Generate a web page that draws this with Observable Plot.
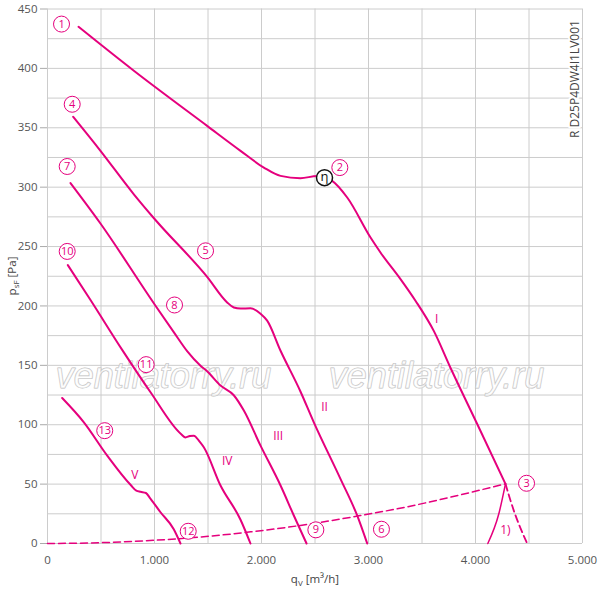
<!DOCTYPE html>
<html>
<head>
<meta charset="utf-8">
<script src="https://cdn.jsdelivr.net/npm/d3@7"></script>
<script src="https://cdn.jsdelivr.net/npm/@observablehq/plot@0.6"></script>
<style>
  html, body { margin: 0; padding: 0; background: #fff; }
  #chart svg { display: block; }
</style>
</head>
<body>
<div id="chart"></div>
<script>
// ---- data ----
const xTicks = [0, 1000, 2000, 3000, 4000, 5000];
const yTicks = [0, 50, 100, 150, 200, 250, 300, 350, 400, 450];
const xGrid = [0, 500, 1000, 1500, 2000, 2500, 3000, 3500, 4000, 4500, 5000];
const yGrid = [0, 25, 50, 75, 100, 125, 150, 175, 200, 225, 250, 275, 300, 325, 350, 375, 400, 425, 450];

const curveI = [[290,435],[807,398],[1492,351.6],[1804,330.6],[2022,316.5],[2178,309.5],[2364,307.6],[2520,309.3],[2589,308],[2660,305.3],[2801,291.3],[3019,257.6],[3112,245],[3299,222.6],[3439,204.4],[3610,179],[3766,148],[4016,100.6],[4280,50.2]];
const curveIdash = [[4280,50.2],[4358,27.7],[4483,0]];
const curveLimit = [[4115,0],[4218,25],[4280,50.2]];
const curveII = [[240,359.2],[495,330.6],[807,294],[1003,273],[1492,224.5],[1679,203],[1741,198.7],[1804,197.8],[1897,198],[1991,193.5],[2053,187.6],[2178,162.3],[2364,128],[2489,102],[2738,54.4],[2894,23.6],[2988,0]];
const curveIII = [[215,303.4],[495,269.4],[1003,201],[1180,178],[1305,162],[1430,149.7],[1492,145],[1617,133],[1741,124.8],[1835,111.9],[1991,82.4],[2178,48.8],[2302,23.6],[2421,0]];
const curveIV = [[190,234.4],[402,205],[698,163],[963,127.3],[1250,92],[1290,89.3],[1330,90.5],[1367,90.8],[1420,86],[1461,81],[1617,48.8],[1804,20],[1897,0]];
const curveV = [[137,122.5],[340,102],[558,74],[780,49],[830,44.5],[870,43.5],[920,42.5],[960,38],[1056,26.3],[1180,12],[1243,0]];
const systemCurve = [[0,0],[500,0.7],[1000,2.7],[1430,5.5],[1900,9.8],[2364,15.2],[2910,23.3],[3400,31.6],[3766,39],[4280,50.2]];

const pointLabels = ["1","2","3","4","5","6","7","8","9","10","11","12","13"];
const pointX = [131, 2732, 4477, 231, 1477, 3121, 184, 1187, 2508, 184, 922, 1315, 535];
const pointY = [437.3, 316.5, 50.7, 369.8, 246.4, 12, 317.4, 200.8, 11.5, 245.9, 150.6, 10.3, 95];

const romanLabels = ["I", "II", "III", "IV", "V", "1)"];
const romanX = [3636, 2589, 2156, 1679, 816, 4280];
const romanY = [189, 114.7, 90.3, 69.2, 57.8, 11.5];

const etaPoint = [[2589, 308]];
const watermarkX = [1084, 3636];
const watermarkY = [140.5, 140.5];
const modelName = "R D25P4DW4I1LV001";

// ---- drawing ----
const MAG = "#e5007d";
const toObj = arr => arr.map(([x, y]) => ({x, y}));
const fmt = d => d3.format(",")(d).replace(/,/g, ".");

const points = pointLabels.map((t, i) => ({t, x: pointX[i], y: pointY[i]}));
const romans = romanLabels.map((t, i) => ({t, x: romanX[i], y: romanY[i]}));
const marks = watermarkX.map((x, i) => ({x, y: watermarkY[i]}));

const lineOpts = {x: "x", y: "y", stroke: MAG, strokeWidth: 2, curve: "monotone-x"};

const svg = Plot.plot({
  width: 600,
  height: 591,
  marginLeft: 47,
  marginRight: 18,
  marginTop: 8.5,
  marginBottom: 48,
  style: {fontFamily: "'Open Sans', sans-serif", background: "#fff"},
  x: {domain: [0, 5000]},
  y: {domain: [0, 450]},
  marks: [
    Plot.gridX(xGrid, {stroke: "#cccccc", strokeOpacity: 1, strokeWidth: 1}),
    Plot.gridY(yGrid, {stroke: "#cccccc", strokeOpacity: 1, strokeWidth: 1}),
    Plot.axisY(yTicks, {tickSize: 7, tickPadding: 3, fontSize: 11.5, fill: "#555", stroke: "#aaa", label: null}),
    Plot.axisX(xTicks, {tickSize: 0, tickPadding: 12, fontSize: 11.5, fill: "#555", tickFormat: fmt, label: null}),
    Plot.text(marks, {x: "x", y: "y", text: () => "ventilatorry.ru", fontSize: 36, fontStyle: "italic",
      fontFamily: "'Liberation Sans', Arial, sans-serif", fill: "white", fillOpacity: 0.6, stroke: "#bdbdbd", strokeWidth: 1}),
    Plot.text([modelName], {x: 4935, y: 391, text: d => d, rotate: -90, fontSize: 12, fill: "#444",
      stroke: "white", strokeWidth: 4}),
    Plot.line(toObj(systemCurve), {...lineOpts, strokeWidth: 1.5, strokeDasharray: "7,4"}),
    Plot.line(toObj(curveIdash), {...lineOpts, strokeWidth: 1.8, strokeDasharray: "7,4"}),
    Plot.line(toObj(curveLimit), {...lineOpts, strokeWidth: 1.5}),
    Plot.line(toObj(curveI), lineOpts),
    Plot.line(toObj(curveII), lineOpts),
    Plot.line(toObj(curveIII), lineOpts),
    Plot.line(toObj(curveIV), lineOpts),
    Plot.line(toObj(curveV), lineOpts),
    Plot.dot(points, {x: "x", y: "y", r: 8, stroke: MAG, strokeWidth: 1, fill: "white"}),
    Plot.text(points, {x: "x", y: "y", text: "t", fill: MAG, fontSize: 11}),
    Plot.dot(etaPoint.map(([x, y]) => ({x, y})), {x: "x", y: "y", r: 8, stroke: "#111", strokeWidth: 1.5, fill: "white"}),
    Plot.text(etaPoint.map(([x, y]) => ({x, y})), {x: "x", y: "y", text: () => "η", fill: "#111", fontSize: 13, dy: -1}),
    Plot.text(romans, {x: "x", y: "y", text: "t", fill: MAG, fontSize: 12})
  ]
});

// axis titles with subscripts
const s = d3.select(svg);
const yl = s.append("text")
  .attr("transform", "translate(16,276) rotate(-90)")
  .attr("text-anchor", "middle")
  .attr("fill", "#444")
  .attr("font-size", 11.5)
  .attr("font-family", "'Open Sans', sans-serif");
yl.append("tspan").text("p");
yl.append("tspan").attr("font-size", 8).attr("dy", 3).text("sF");
yl.append("tspan").attr("dy", -3).text(" [Pa]");

const xl = s.append("text")
  .attr("x", 315).attr("y", 583)
  .attr("text-anchor", "middle")
  .attr("fill", "#444")
  .attr("font-size", 11.5)
  .attr("font-family", "'Open Sans', sans-serif");
xl.append("tspan").text("q");
xl.append("tspan").attr("font-size", 8).attr("dy", 3).text("V");
xl.append("tspan").attr("dy", -3).text(" [m³/h]");

document.getElementById("chart").appendChild(svg);
</script>
</body>
</html>
